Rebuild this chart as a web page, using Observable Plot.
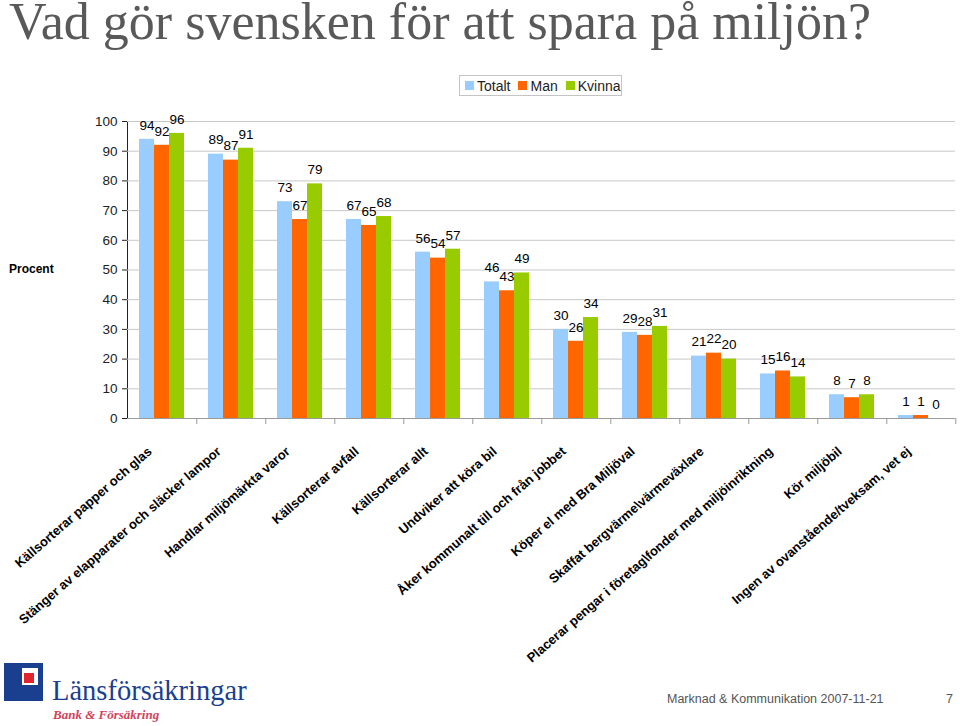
<!DOCTYPE html>
<html>
<head>
<meta charset="utf-8">
<script src="https://cdn.jsdelivr.net/npm/d3@7"></script>
<script src="https://cdn.jsdelivr.net/npm/@observablehq/plot@0.6"></script>
<style>
  body { margin: 0; width: 960px; height: 726px; position: relative; overflow: hidden; background: #fff; font-family: Arial, "Liberation Sans", sans-serif; }
  #title { position: absolute; left: 9px; top: 0px; font: 52px/44px "Liberation Serif", "Times New Roman", serif; color: #595959; white-space: nowrap; }
  #legend { position: absolute; left: 459px; top: 75px; width: 163px; height: 21px; box-sizing: border-box; border: 1px solid #c4c4c4; display: flex; align-items: center; padding-left: 5px; font-size: 14px; color: #222; }
  #legend .item { display: flex; align-items: center; margin-right: 8px; }
  #legend .sw { width: 9px; height: 9px; margin-right: 3px; }
  #chart { position: absolute; left: 0; top: 100px; }
  #chart [aria-label="y-axis tick"] { stroke: #9a9a9a; }
  #chart [aria-label="frame"] { stroke: #9a9a9a; }
  #logo { position: absolute; left: 4px; top: 663px; width: 250px; height: 60px; }
  #logo .sq { position: absolute; left: 0; top: 0; width: 39px; height: 38px; background: #1b3f8f; }
  #logo .wh { position: absolute; left: 11px; top: 5px; width: 23px; height: 25px; background: #fff; }
  #logo .bl { position: absolute; left: 11px; top: 5px; width: 7px; height: 25px; background: #1b3f8f; }
  #logo .bt { position: absolute; left: 18px; top: 22px; width: 16px; height: 8px; background: #1b3f8f; }
  #logo .rd { position: absolute; left: 20px; top: 10px; width: 10px; height: 10px; background: #e0252f; }
  #logo .name { position: absolute; left: 48px; top: 14px; font: 28.5px/28px "Liberation Serif", "Times New Roman", serif; color: #1b3f8f; white-space: nowrap; }
  #logo .sub { position: absolute; left: 49px; top: 45px; font: italic bold 13px/14px "Liberation Serif", "Times New Roman", serif; color: #d2425a; white-space: nowrap; }
  #footer { position: absolute; left: 667px; top: 692px; font-size: 12.5px; color: #555; white-space: nowrap; }
  #page { position: absolute; left: 946px; top: 692px; font-size: 12.5px; color: #555; }
</style>
</head>
<body>
<div id="title">Vad gör svensken för att spara på miljön?</div>
<div id="legend"></div>
<div id="chart"></div>
<div id="logo">
  <div class="sq"></div><div class="wh"></div><div class="bl"></div><div class="bt"></div><div class="rd"></div>
  <div class="name">Länsförsäkringar</div>
  <div class="sub">Bank &amp; Försäkring</div>
</div>
<div id="footer">Marknad &amp; Kommunikation 2007-11-21</div>
<div id="page">7</div>
<script>
const categories = [
  "Källsorterar papper och glas",
  "Stänger av elapparater och släcker lampor",
  "Handlar miljömärkta varor",
  "Källsorterar avfall",
  "Källsorterar allt",
  "Undviker att köra bil",
  "Åker kommunalt till och från jobbet",
  "Köper el med Bra Miljöval",
  "Skaffat bergvärme\\värmeväxlare",
  "Placerar pengar i företag\\fonder med miljöinriktning",
  "Kör miljöbil",
  "Ingen av ovanstående/tveksam, vet ej"
];
const series = ["Totalt", "Man", "Kvinna"];
const totalt = [94, 89, 73, 67, 56, 46, 30, 29, 21, 15, 8, 1];
const man    = [92, 87, 67, 65, 54, 43, 26, 28, 22, 16, 7, 1];
const kvinna = [96, 91, 79, 68, 57, 49, 34, 31, 20, 14, 8, 0];
const colors = ["#99CCFF", "#FF6600", "#99CC00"];
const yTicks = [0, 10, 20, 30, 40, 50, 60, 70, 80, 90, 100];
const yLabel = "Procent";

const bySeries = {Totalt: totalt, Man: man, Kvinna: kvinna};
const data = categories.flatMap((c, i) => series.map(s => ({category: c, series: s, value: bySeries[s][i]})));

// legend
const legend = document.getElementById("legend");
series.forEach((s, i) => {
  const it = document.createElement("div");
  it.className = "item";
  const sw = document.createElement("div");
  sw.className = "sw";
  sw.style.background = colors[i];
  const t = document.createElement("span");
  t.textContent = s;
  it.appendChild(sw); it.appendChild(t);
  legend.appendChild(it);
});

const W = 960, H = 580, mL = 123, mR = 2, mT = 21, mB = 262;
const step = (W - mL - mR) / categories.length;

const chart = Plot.plot({
  width: W, height: H,
  marginLeft: mL, marginRight: mR, marginTop: mT, marginBottom: mB,
  style: {fontFamily: "Arial, 'Liberation Sans', sans-serif", fontSize: "13.5px", color: "#222", background: "transparent", overflow: "visible"},
  fx: {domain: categories, padding: 0, label: null},
  x: {domain: series, paddingInner: 0, paddingOuter: 0.77, axis: null},
  y: {domain: [0, 100], ticks: yTicks, tickSize: 5, tickPadding: 5, label: null, line: true},
  color: {domain: series, range: colors},
  marks: [
    Plot.gridY(yTicks, {stroke: "#c8c8c8", strokeOpacity: 1}),
    Plot.barY(data, {fx: "category", x: "series", y: "value", fill: "series"}),
    Plot.ruleY([0], {stroke: "#9a9a9a"}),
    Plot.text(data, {fx: "category", x: "series", y: "value", text: d => String(d.value), dy: -14, fontSize: 13.5, fill: "#000"}),
    Plot.axisFx({anchor: "bottom", tickSize: 0, tickPadding: 0, tickRotate: -41, textAnchor: "end", lineAnchor: "middle", dx: -12, dy: 31, fontSize: 13, fontWeight: "bold", fill: "#000", label: null}),
    Plot.axisFx({anchor: "bottom", tickSize: 6, tickFormat: () => "", dx: step / 2, stroke: "#9a9a9a", label: null})
  ]
});
document.getElementById("chart").appendChild(chart);

// y-axis title placed as HTML label
const yl = document.createElement("div");
yl.textContent = yLabel;
yl.style.cssText = "position:absolute;left:9px;top:262px;font-weight:bold;font-size:12px;color:#000;";
document.body.appendChild(yl);
</script>
</body>
</html>
